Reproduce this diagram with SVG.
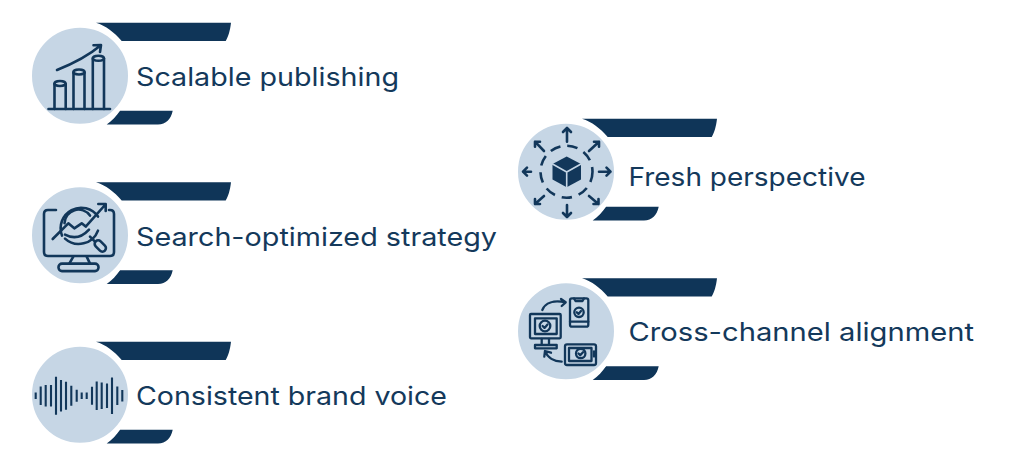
<svg xmlns="http://www.w3.org/2000/svg" width="1024" height="469" viewBox="0 0 1024 469">
<style>
.bar{fill:#0f3558}
.disc{fill:#c6d6e5;stroke:#fff;stroke-width:5}
.lab{font-family:"Inter","Noto Sans","Liberation Sans",sans-serif;font-size:25.5px;fill:#14395b}
.i{fill:none;stroke:#12375a;stroke-width:2.600;stroke-linecap:round;stroke-linejoin:round}
.t{stroke-width:2.300}
.f{fill:#12375a;stroke:none}
.w{stroke-width:2.100;stroke-linecap:butt}
</style>
<defs>
<g id="badge">
<path class="bar" d="M96 22.7H231C230 31 228.500 36 225.700 41H121.700C114 32 106 26 96 22.7Z"/>
<path class="bar" d="M120 110.700H172.700C171 119 166 124.500 158 124.500H106.700C112 120.500 116.500 116 120 110.700Z"/>
<circle class="disc" cx="80" cy="75.700" r="50.500"/>
</g>
</defs>
<rect width="1024" height="469" fill="#fff"/>
<g id="connectors"></g>

<g id="node-scalable">
<use href="#badge"/>
<g class="i">
<path d="M48.500 109H110"/>
<path d="M54.500 84V109M65.700 84V109M73.500 72.500V109M84.500 72.500V109M92.800 58.500V109M104 58.500V109"/>
<ellipse cx="60" cy="83.500" rx="5.600" ry="2.500"/>
<ellipse cx="79" cy="72" rx="5.600" ry="2.500"/>
<ellipse cx="98.400" cy="58.300" rx="5.600" ry="2.500"/>
<path d="M57 70C72 64 88 56 100.500 45.500M93.500 45.200L101 45L100 52"/>
</g>
<text class="lab" x="136" y="86" textLength="263" lengthAdjust="spacingAndGlyphs">Scalable publishing</text>
</g>

<g id="node-search" transform="translate(0 159.600)">
<use href="#badge"/>
<g class="i">
<path d="M56 50.400H48Q44 50.400 44 54.400V92.400Q44 96.400 48 96.400H110Q114 96.400 114 92.400V54.400Q114 50.400 110 50.400H109"/>
<path d="M73.300 97L69.300 104M86.700 97L90 104"/>
<rect x="58.500" y="104" width="40" height="7.500" rx="3.500"/>
<path d="M62 76A20.500 20.500 0 0 1 98 57M98 71A20.500 20.500 0 0 1 65 79"/>
<path d="M64.500 63.500A14 14 0 0 1 90 56M65 75Q78 82 89 70"/>
<path d="M52.700 79.400L68.300 63.700L74.300 68.700L81.700 63.700L85.700 67L105 45.400M98.300 44.400H105.700V51.400"/>
<path d="M90 77L95 82"/>
<rect x="93.800" y="82.900" width="13" height="7" rx="3.500" transform="rotate(45 100.300 86.400)"/>
</g>
<text class="lab" x="136" y="86" textLength="361" lengthAdjust="spacingAndGlyphs">Search-optimized strategy</text>
</g>

<g id="node-voice" transform="translate(0 319)">
<use href="#badge"/>
<g class="i w" id="wave">
<path d="M35.700 73.400V80M40.700 67.400V86M45.700 66V87.400M51 66V87.400M56 57.700V95.700M61 61V92.400M66 62.700V90.700M71.300 66.700V86.700M76.700 70.700V82.700M81.700 73.400V80M86.700 73.400V80M92 67.700V85.700M96.700 62.400V91M101.700 63.400V90M107 64.400V89M112 58.400V95M117.300 67.400V86M122.300 71V82.400"/>
</g>
<text class="lab" x="136" y="86" textLength="311" lengthAdjust="spacingAndGlyphs">Consistent brand voice</text>
</g>

<g id="node-fresh" transform="translate(486 96)">
<use href="#badge"/>
<g class="i">
<circle cx="80.500" cy="75.700" r="26" stroke-dasharray="10.500 7" stroke-linecap="butt"/>
<path d="M81 32V45.700M77 36L81 32L85 36"/>
<path d="M81 109V121M77 117L81 121L85 117"/>
<path d="M37 75.700H45M41 71.700L37 75.700L41 79.700"/>
<path d="M113 75.700H124.500M120.500 71.700L124.500 75.700L120.500 79.700"/>
<path d="M49 45.700L58 55M49 50.700V45.700H54"/>
<path d="M113 45.700L103 55M113 50.700V45.700H108"/>
<path d="M49 108L58 100M49 103V108H54"/>
<path d="M112.500 108L103 100M112.500 103V108H107.500"/>
<path class="f" d="M80.700 60.500L95 68V83.500L80.700 91.200L66.500 83.500V68Z"/>
<path d="M66.500 68L80.700 76L95 68M80.700 76V91.200" stroke="#c6d6e5" stroke-width="1.600"/>
</g>
<text class="lab" x="142.500" y="89.500" textLength="237" lengthAdjust="spacingAndGlyphs">Fresh perspective</text>
</g>

<g id="node-cross" transform="translate(486 255.500)">
<use href="#badge"/>
<g class="i t">
<rect x="44" y="58.500" width="30.700" height="24.300" rx="1"/>
<rect x="49" y="62.800" width="21.700" height="15.700"/>
<circle cx="59" cy="70.500" r="5.300"/>
<path d="M56.600 70.500L58.500 72.400L61.500 69"/>
<path d="M55.700 83.500V89.500M63 83.500V89.500M49 89.500H70.700V92.800H49Z"/>
<rect x="84" y="42.800" width="18.300" height="28.400" rx="2"/>
<path d="M84 66.200H102.300M88 43L89.500 45.500H96.500L98 43"/>
<circle cx="93" cy="56.800" r="4.700"/>
<path d="M90.800 56.800L92.500 58.400L95 55.500"/>
<rect x="79" y="88.800" width="31" height="20.700" rx="2"/>
<rect x="83" y="92.500" width="22.500" height="13"/>
<path d="M108 96V101"/>
<circle cx="94.700" cy="98" r="4.700"/>
<path d="M92.500 98L94.200 99.700L97 96.700"/>
<path d="M56.300 54.500C59 47 68 44.500 79.700 46.800M75 43.500L79.700 46.800L75.700 50.500"/>
<path d="M75.700 106.200C68 106 61.500 102 59 95.500M58.300 101.200L59 95.500L65 97.200"/>
</g>
<text class="lab" x="142.500" y="85.500" textLength="345.500" lengthAdjust="spacingAndGlyphs">Cross-channel alignment</text>
</g>
</svg>
